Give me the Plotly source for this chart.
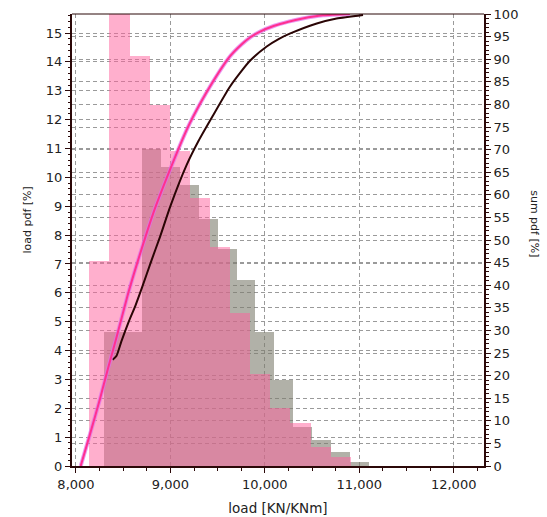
import plotly.graph_objects as go

# ---- data ----
pink_centers = [8248, 8461, 8674, 8887, 9100, 9313, 9526, 9739, 9952, 10165, 10378, 10591, 10804]
pink_pdf = [7.1, 16.8, 14.2, 12.5, 10.9, 9.3, 7.6, 5.3, 3.2, 2.0, 1.5, 0.67, 0.3]
pink_width = 213

gray_centers = [8400, 8600, 8800, 9000, 9200, 9400, 9600, 9800, 10000, 10200, 10400, 10600, 10800, 11000]
gray_pdf = [4.65, 4.65, 11.0, 10.36, 9.72, 8.57, 7.53, 6.44, 4.65, 2.98, 1.36, 0.9, 0.49, 0.15]
gray_width = 200

black_load = [8388, 8430, 8480, 8560, 8630, 8700, 8800, 8890, 9000, 9170, 9300, 9450,
              9630, 9750, 9840, 10020, 10150, 10270, 10550, 10760, 11040]
black_sum = [23.5, 24.4, 27.5, 32.0, 35.5, 39.5, 45.5, 50.7, 57.5, 66.5, 72.0, 77.5,
             83.9, 87.3, 89.6, 92.8, 94.5, 95.7, 97.9, 99.0, 99.8]

mag_load = [8050, 8148, 8254, 8342, 8431, 8553, 8659, 8818, 8995, 9171, 9241, 9418, 9630,
            9750, 9850, 9950, 10100, 10250, 10400, 10617, 10900]
mag_sum = [0, 7.0, 14.8, 21.8, 28.6, 38.2, 45.6, 55.9, 65.5, 74.3, 77.3, 83.9, 90.6,
           93.2, 94.9, 96.1, 97.4, 98.3, 99.0, 99.7, 100]

x_ticks = [8000, 9000, 10000, 11000, 12000]

AX = "#2b0808"
GRID = "#9a9a9a"
FONT = "DejaVu Sans"

fig = go.Figure()
fig.add_trace(go.Bar(x=gray_centers, y=gray_pdf, width=gray_width,
                     marker=dict(color="rgba(125,125,110,0.6)", line=dict(width=0)),
                     showlegend=False))
fig.add_trace(go.Bar(x=pink_centers, y=pink_pdf, width=pink_width,
                     marker=dict(color="rgba(255,95,155,0.5)", line=dict(width=0)),
                     showlegend=False))
fig.add_trace(go.Scatter(x=black_load, y=black_sum, yaxis="y2", mode="lines",
                         line=dict(color="#2a0505", width=2, shape="spline", smoothing=0.6),
                         showlegend=False))
fig.add_trace(go.Scatter(x=mag_load, y=mag_sum, yaxis="y2", mode="lines",
                         line=dict(color="rgba(225,110,235,0.7)", width=4, shape="spline", smoothing=0.6),
                         showlegend=False))
fig.add_trace(go.Scatter(x=mag_load, y=mag_sum, yaxis="y2", mode="lines",
                         line=dict(color="#ff3090", width=2, shape="spline", smoothing=0.6),
                         showlegend=False))

fig.update_layout(
    width=547, height=517,
    margin=dict(l=72, r=63, t=14, b=51),
    paper_bgcolor="white", plot_bgcolor="white",
    barmode="overlay", bargap=0,
    font=dict(family=FONT, size=13, color="#222"),
    xaxis=dict(range=[7958, 12321], tickvals=x_ticks, tickformat=",", automargin=False,
               ticks="outside", ticklen=5, tickcolor=AX, tickwidth=1,
               minor=dict(dtick=250, tick0=8000, ticks="outside", ticklen=3, tickcolor=AX, showgrid=False),
               showgrid=True, gridcolor=GRID, gridwidth=1, griddash="4px,3px",
               showline=True, linecolor=AX, linewidth=2, zeroline=False,
               title=dict(text="load [KN/KNm]", font=dict(size=13.5, family=FONT, color="#222"), standoff=13),
               tickfont=dict(size=13, family=FONT, color="#222")),
    yaxis=dict(range=[0, 15.66], dtick=1, tick0=0, automargin=False,
               ticks="outside", ticklen=5, tickcolor=AX,
               minor=dict(dtick=0.2, ticks="outside", ticklen=2, tickcolor=AX, showgrid=False),
               showgrid=True, gridcolor=GRID, gridwidth=1, griddash="4px,3px",
               showline=True, linecolor=AX, linewidth=2, zeroline=False,
               tickfont=dict(size=13, family=FONT, color="#222")),
    yaxis2=dict(range=[0, 100], dtick=5, tick0=0, overlaying="y", side="right", automargin=False,
                ticks="outside", ticklen=5, tickcolor=AX,
                minor=dict(dtick=1, ticks="outside", ticklen=3, tickcolor=AX, showgrid=False),
                showgrid=True, gridcolor=GRID, gridwidth=1, griddash="4px,3px",
                showline=True, linecolor=AX, linewidth=2, zeroline=False,
                tickfont=dict(size=13, family=FONT, color="#222")),
    shapes=[dict(type="line", xref="paper", yref="paper", x0=0, x1=1, y0=1, y1=1,
                 line=dict(color=AX, width=1))],
    annotations=[
        dict(text="load pdf [%]", textangle=-90, xref="paper", yref="paper",
             x=-0.107, y=0.545, showarrow=False, xanchor="center", yanchor="middle",
             font=dict(size=11, family=FONT, color="#222")),
        dict(text="sum pdf [%]", textangle=90, xref="paper", yref="paper",
             x=1.124, y=0.537, showarrow=False, xanchor="center", yanchor="middle",
             font=dict(size=11, family=FONT, color="#222")),
    ],
)

fig.write_html("out.html")
